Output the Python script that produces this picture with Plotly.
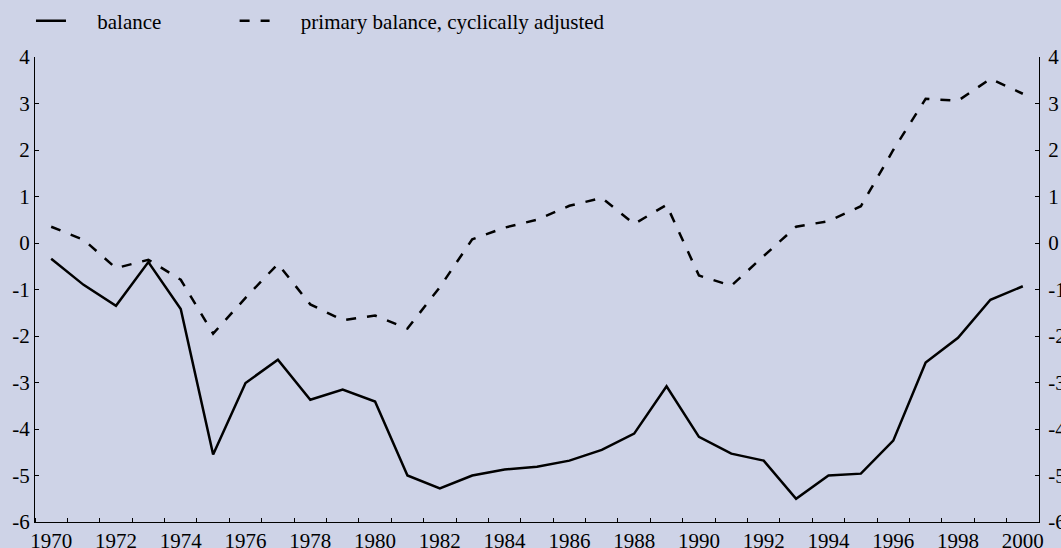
import plotly.graph_objects as go

years = list(range(1970, 2001))
balance = [-0.34, -0.90, -1.35, -0.41, -1.42, -4.55, -3.01, -2.51, -3.37, -3.15,
           -3.41, -5.00, -5.28, -5.00, -4.87, -4.81, -4.68, -4.45, -4.10, -3.08,
           -4.17, -4.53, -4.68, -5.50, -5.00, -4.96, -4.25, -2.57, -2.04, -1.22,
           -0.93]
primary_ca = [0.35, 0.07, -0.54, -0.36, -0.79, -1.95, -1.18, -0.45, -1.32, -1.66,
              -1.56, -1.84, -0.95, 0.08, 0.33, 0.50, 0.80, 0.97, 0.41, 0.82,
              -0.70, -0.92, -0.28, 0.35, 0.47, 0.79, 2.00, 3.10, 3.06, 3.53,
              3.21]
names = ["balance", "primary balance, cyclically adjusted"]
x_labels = list(range(1970, 2001, 2))
y_ticks = list(range(-6, 5))
y_ticktext = [str(v) for v in y_ticks]

BG = "#CED3E7"
FONT = "Liberation Serif, Times New Roman, serif"
lead = "\u00a0" * 5

fig = go.Figure()
fig.add_trace(go.Scatter(x=years, y=balance, mode="lines",
                         name=lead + names[0] + "\u00a0" * 13,
                         line=dict(color="black", width=2.5)))
fig.add_trace(go.Scatter(x=years, y=primary_ca, mode="lines", name=lead + names[1],
                         line=dict(color="black", width=2.5, dash="10px,11px")))
fig.add_trace(go.Scatter(x=years, y=balance, mode="lines", yaxis="y2",
                         line=dict(color="rgba(0,0,0,0)", width=0),
                         showlegend=False, hoverinfo="skip"))

axis_font = dict(family=FONT, size=21, color="black")
fig.update_layout(
    width=1061, height=548,
    margin=dict(l=35, r=22, t=57, b=26, autoexpand=False),
    paper_bgcolor=BG, plot_bgcolor=BG,
    font=axis_font,
    showlegend=True,
    legend=dict(orientation="h", x=-0.004, xanchor="left", y=1.077, yanchor="middle",
                bgcolor="rgba(0,0,0,0)", font=axis_font),
    xaxis=dict(range=[1969.5, 2000.5], tickmode="array", tickvals=x_labels,
               ticktext=[str(v) for v in x_labels], ticks="",
               showline=True, linecolor="black", linewidth=1, automargin=False,
               showgrid=False, zeroline=False, tickfont=axis_font,
               minor=dict(tick0=1969.5, dtick=1, ticks="inside", ticklen=4,
                          tickcolor="black", tickwidth=1, showgrid=False)),
    yaxis=dict(range=[-6, 4], tickmode="array", tickvals=y_ticks, ticktext=y_ticktext,
               ticks="inside", ticklen=4, tickcolor="black", automargin=False,
               showline=True, linecolor="black", linewidth=1,
               showgrid=False, zeroline=False, tickfont=axis_font),
    yaxis2=dict(range=[-6, 4], tickmode="array", tickvals=y_ticks, ticktext=y_ticktext,
                overlaying="y", side="right", automargin=False,
                ticks="inside", ticklen=4, tickcolor="black", ticklabelstandoff=4,
                showline=True, linecolor="black", linewidth=1,
                showgrid=False, zeroline=False, tickfont=axis_font),
)

fig.write_html(
    "out.html",
    config={"displayModeBar": False},
    post_script="document.body.style.margin='0';document.body.style.background='" + BG + "';",
)
